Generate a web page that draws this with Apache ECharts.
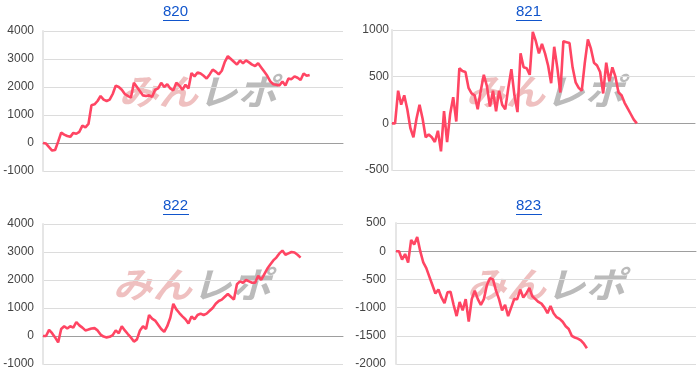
<!DOCTYPE html>
<html>
<head>
<meta charset="utf-8">
<script src="https://cdn.jsdelivr.net/npm/echarts@6/dist/echarts.min.js"></script>
<style>
html,body{margin:0;padding:0;background:#fff;}
#c{width:700px;height:388px;}
</style>
</head>
<body>
<div id="c"></div>
<script>
var titles = ['820', '821', '822', '823'];

var values820 = [0, -20, -150, -270, -250, 50, 370, 300, 250, 220, 360, 330, 400, 620, 560, 680, 1350, 1380, 1500, 1680, 1550, 1500, 1550, 1750, 2050, 2000, 1900, 1750, 1680, 1620, 2150, 2000, 1850, 1700, 1680, 1700, 1650, 1900, 1950, 2150, 2000, 2100, 1950, 1880, 2150, 2050, 1900, 2080, 1950, 2500, 2380, 2520, 2480, 2400, 2300, 2450, 2620, 2550, 2450, 2580, 2900, 3100, 3000, 2900, 2800, 2950, 2850, 2950, 2880, 2800, 2750, 2850, 2700, 2550, 2400, 2200, 2100, 2080, 2050, 2200, 2050, 2300, 2280, 2380, 2330, 2250, 2480, 2400, 2430];

var values821 = [0, 0, 350, 200, 300, 150, -50, -150, 50, 200, 50, -150, -120, -150, -200, -80, -300, 130, -200, 100, 280, 20, 590, 560, 550, 380, 320, 300, 150, 350, 520, 400, 180, 350, 130, 350, 200, 150, 380, 580, 300, 120, 750, 600, 590, 520, 980, 880, 750, 850, 750, 620, 430, 820, 600, 330, 880, 870, 860, 600, 440, 380, 350, 650, 900, 800, 650, 620, 550, 320, 650, 450, 600, 500, 330, 300, 220, 160, 100, 40, 0];

var values822 = [0, 0, 220, 100, -50, -230, 250, 350, 270, 350, 300, 500, 380, 300, 200, 230, 270, 280, 200, 50, -20, -50, -30, 30, 200, 100, 350, 200, 70, -50, -200, -120, 200, 350, 250, 750, 620, 550, 400, 250, 150, 350, 650, 1150, 950, 820, 700, 600, 450, 700, 600, 750, 800, 750, 800, 900, 1000, 1150, 1250, 1300, 1400, 1500, 1400, 1300, 1850, 1950, 1900, 2000, 1950, 1900, 1900, 2150, 2000, 2200, 2400, 2550, 2700, 2800, 2950, 3050, 2900, 2950, 3000, 2980, 2900, 2800];

var values823 = [0, 0, -150, -50, -200, 200, 120, 250, 0, -200, -300, -450, -600, -750, -680, -820, -920, -730, -720, -950, -1150, -900, -1050, -850, -1250, -850, -700, -850, -950, -850, -600, -480, -500, -700, -850, -1050, -950, -1150, -1000, -850, -850, -680, -820, -750, -650, -800, -850, -900, -930, -1000, -1100, -970, -1100, -1170, -1200, -1250, -1330, -1380, -1500, -1530, -1550, -1580, -1640, -1720];

var yMin = [-1000, -500, -1000, -2000];
var yMax = [4000, 1000, 4000, 500];
var yStep = [1000, 500, 1000, 500];

var slotCount = 100;
var categories = [];
for (var i = 0; i < slotCount; i++) categories.push(String(i));

var allValues = [values820, values821, values822, values823];

var grids = [
  {left: 43, top: 31, width: 300, height: 140},
  {left: 392, top: 30, width: 303, height: 140},
  {left: 43, top: 224, width: 300, height: 140},
  {left: 396, top: 223, width: 300, height: 141}
];
var labelMargins = [9, 3, 9, 10];
var titlePos = [{x: 176, y: 4}, {x: 529, y: 4}, {x: 176, y: 198}, {x: 529, y: 198}];
var markPos = [{x: 198, y: 91}, {x: 545, y: 91}, {x: 192, y: 284}, {x: 546, y: 284}];

var font = 'Arial, "Liberation Sans", sans-serif';

var option = {
  animation: false,
  backgroundColor: '#ffffff',
  title: [],
  grid: [],
  xAxis: [],
  yAxis: [],
  series: [],
  graphic: []
};

for (var k = 0; k < 4; k++) {
  option.title.push({
    text: titles[k],
    left: titlePos[k].x - 13,
    top: titlePos[k].y,
    padding: 0,
    textStyle: {fontSize: 15, fontWeight: 'normal', color: '#1155cc', fontFamily: font}
  });
  option.graphic.push({
    type: 'line',
    shape: {x1: titlePos[k].x - 13, y1: titlePos[k].y + 16.5, x2: titlePos[k].x + 13, y2: titlePos[k].y + 16.5},
    style: {stroke: '#1155cc', lineWidth: 1},
    z: 10
  });
  option.graphic.push({
    type: 'group',
    x: markPos[k].x,
    y: markPos[k].y,
    scaleX: 1.1,
    z: 0,
    children: [
      {type: 'text', x: -72, y: 0, style: {text: 'みん', font: 'italic bold 36px "Noto Sans CJK JP"', fill: 'rgba(214,90,90,0.38)', textVerticalAlign: 'middle', textAlign: 'left'}},
      {type: 'text', x: 0, y: 0, style: {text: 'レポ', font: 'italic bold 36px "Noto Sans CJK JP"', fill: 'rgba(150,150,150,0.65)', textVerticalAlign: 'middle', textAlign: 'left'}}
    ]
  });
  option.grid.push(grids[k]);
  option.xAxis.push({
    type: 'category',
    gridIndex: k,
    data: categories,
    boundaryGap: false,
    axisLabel: {show: false},
    axisTick: {show: false},
    axisLine: {show: true, onZero: true, lineStyle: {color: '#9e9e9e', width: 1}},
    splitLine: {show: false}
  });
  option.yAxis.push({
    type: 'value',
    gridIndex: k,
    min: yMin[k],
    max: yMax[k],
    interval: yStep[k],
    axisLine: {show: true, lineStyle: {color: '#e6e6e6', width: 2}},
    axisTick: {show: false},
    axisLabel: {color: '#444', fontSize: 12, fontFamily: font, margin: labelMargins[k], formatter: function (v) { return String(v); }},
    splitLine: {show: true, lineStyle: {color: '#dcdcdc', width: 1}}
  });
  option.series.push({
    type: 'line',
    xAxisIndex: k,
    yAxisIndex: k,
    data: allValues[k],
    symbol: 'none',
    smooth: false,
    z: 5,
    lineStyle: {color: '#ff4563', width: 2.6},
    itemStyle: {color: '#ff4563'}
  });
}

var chart = echarts.init(document.getElementById('c'), null, {renderer: 'canvas'});
chart.setOption(option);
</script>
</body>
</html>
